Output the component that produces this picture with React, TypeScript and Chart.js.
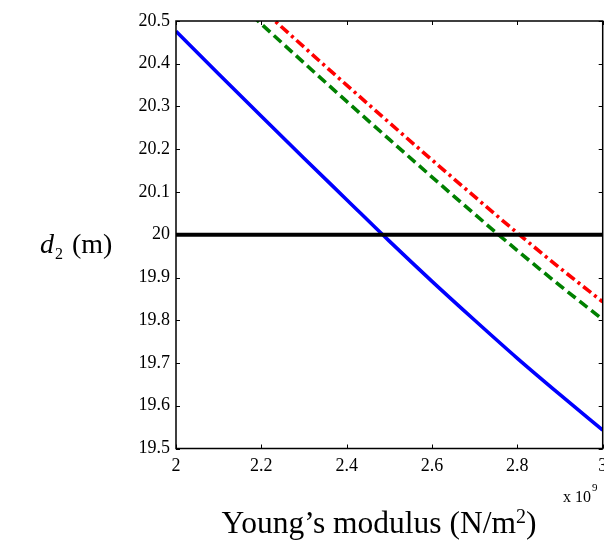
import { useEffect, useRef } from "react";
import { Chart, registerables } from "chart.js";

Chart.register(...registerables);

// Young's modulus (x 10^9 N/m^2)
const xValues = [2.0, 2.1, 2.2, 2.3, 2.4, 2.5, 2.6, 2.7, 2.8, 2.9, 3.0];
// d2 (m) curves
const blueSeries = [20.476, 20.376, 20.277, 20.179, 20.082, 19.985, 19.891, 19.8, 19.711, 19.626, 19.543];
const greenSeries = [null, 20.585, 20.493, 20.402, 20.312, 20.223, 20.135, 20.048, 19.963, 19.881, 19.802];
const redSeries = [null, 20.62, 20.529, 20.439, 20.35, 20.262, 20.175, 20.089, 20.004, 19.922, 19.843];
// reference line d2 = 20 m
const refX = [2, 3];
const refY = [20, 20];

const xTickValues = [2, 2.2, 2.4, 2.6, 2.8, 3];
const yTickValues = [19.5, 19.6, 19.7, 19.8, 19.9, 20, 20.1, 20.2, 20.3, 20.4, 20.5];

const FONT = "'Liberation Serif', 'Times New Roman', serif";

const toPoints = (xs: number[], ys: (number | null)[]) =>
  xs.map((x, i) => ({ x, y: ys[i] }));

const framePlugin = {
  id: "frame",
  afterDraw(chart: any) {
    const { ctx, chartArea } = chart;
    const { left, right, top, bottom } = chartArea;
    const xs = chart.scales.x;
    const ys = chart.scales.y;
    ctx.save();
    // box
    ctx.strokeStyle = "#000";
    ctx.lineWidth = 1.5;
    ctx.strokeRect(left, top, right - left, bottom - top);
    // inward ticks
    ctx.lineWidth = 1;
    const tl = 4;
    ctx.beginPath();
    xTickValues.forEach((v) => {
      const px = Math.round(xs.getPixelForValue(v)) + 0.5;
      ctx.moveTo(px, bottom);
      ctx.lineTo(px, bottom - tl);
      ctx.moveTo(px, top);
      ctx.lineTo(px, top + tl);
    });
    yTickValues.forEach((v) => {
      const py = Math.round(ys.getPixelForValue(v)) + 0.5;
      ctx.moveTo(left, py);
      ctx.lineTo(left + tl, py);
      ctx.moveTo(right, py);
      ctx.lineTo(right - tl, py);
    });
    ctx.stroke();

    ctx.fillStyle = "#000";
    ctx.textBaseline = "alphabetic";
    // y-axis title: d_2 (m)
    ctx.textAlign = "left";
    let x = 40;
    const base = 253;
    ctx.font = `italic 28px ${FONT}`;
    ctx.fillText("d", x, base);
    x += ctx.measureText("d").width + 1;
    ctx.font = `16px ${FONT}`;
    ctx.fillText("2", x, base + 6);
    x += ctx.measureText("2").width + 9;
    ctx.font = `28px ${FONT}`;
    ctx.fillText("(m)", x, base);

    // x-axis title
    const big = `31.5px ${FONT}`;
    const sup = `20px ${FONT}`;
    ctx.font = big;
    const t1 = "Young\u2019s modulus (N/m";
    const t2 = "2";
    const t3 = ")";
    const w1 = ctx.measureText(t1).width;
    ctx.font = sup;
    const w2 = ctx.measureText(t2).width;
    ctx.font = big;
    const w3 = ctx.measureText(t3).width;
    const total = w1 + w2 + w3;
    let sx = 379 - total / 2;
    const xb = 533;
    ctx.fillText(t1, sx, xb);
    sx += w1;
    ctx.font = sup;
    ctx.fillText(t2, sx, xb - 10);
    sx += w2;
    ctx.font = big;
    ctx.fillText(t3, sx, xb);

    // exponent label
    ctx.font = `16px ${FONT}`;
    ctx.fillText("x 10", 563, 502);
    const wx = ctx.measureText("x 10").width;
    ctx.font = `11px ${FONT}`;
    ctx.fillText("9", 563 + wx + 1, 491);
    ctx.restore();
  },
};

export default function App() {
  const canvasRef = useRef<HTMLCanvasElement | null>(null);

  useEffect(() => {
    const canvas = canvasRef.current;
    if (!canvas) return;
    const chart = new Chart(canvas, {
      type: "line",
      data: {
        datasets: [
          {
            label: "ref",
            data: toPoints(refX, refY),
            borderColor: "#000000",
            borderWidth: 4,
            pointRadius: 0,
            order: 0,
          },
          {
            label: "blue",
            data: toPoints(xValues, blueSeries),
            borderColor: "#0000ff",
            borderWidth: 3.6,
            pointRadius: 0,
            cubicInterpolationMode: "monotone",
            order: 1,
          },
          {
            label: "green",
            data: toPoints(xValues, greenSeries),
            borderColor: "#008000",
            borderWidth: 3.6,
            borderDash: [10, 5],
            pointRadius: 0,
            cubicInterpolationMode: "monotone",
            order: 1,
          },
          {
            label: "red",
            data: toPoints(xValues, redSeries),
            borderColor: "#ff0000",
            borderWidth: 3.6,
            borderDash: [10, 4, 3, 4],
            pointRadius: 0,
            cubicInterpolationMode: "monotone",
            order: 1,
          },
        ],
      },
      options: {
        animation: false,
        responsive: false,
        maintainAspectRatio: false,
        layout: { padding: { left: 0, right: 1.3, top: 21, bottom: 0 } },
        plugins: {
          legend: { display: false },
          tooltip: { enabled: false },
        },
        elements: { line: { borderCapStyle: "butt" } },
        scales: {
          x: {
            type: "linear",
            min: 2,
            max: 3,
            grid: { display: false, drawTicks: false },
            border: { display: false },
            afterBuildTicks: (s: any) => {
              s.ticks = xTickValues.map((v) => ({ value: v }));
            },
            afterFit: (s: any) => {
              s.height = 91.5;
              s.paddingLeft = 0;
              s.paddingRight = 0;
            },
            ticks: {
              color: "#000",
              font: { family: FONT, size: 18 },
              padding: 7,
              maxRotation: 0,
              autoSkip: false,
              callback: (v: any) => String(Number(Number(v).toFixed(1))),
            },
          },
          y: {
            type: "linear",
            min: 19.5,
            max: 20.5,
            grid: { display: false, drawTicks: false },
            border: { display: false },
            afterBuildTicks: (s: any) => {
              s.ticks = yTickValues.map((v) => ({ value: v }));
            },
            afterFit: (s: any) => {
              s.width = 176;
              s.paddingTop = 0;
              s.paddingBottom = 0;
            },
            ticks: {
              color: "#000",
              font: { family: FONT, size: 18 },
              padding: 6,
              autoSkip: false,
              callback: (v: any) => String(Number(Number(v).toFixed(1))),
            },
          },
        },
      },
      plugins: [framePlugin],
    });
    return () => chart.destroy();
  }, []);

  return (
    <div style={{ position: "absolute", left: 0, top: 0, width: 604, height: 540, background: "#fff" }}>
      <canvas ref={canvasRef} width={604} height={540} style={{ display: "block" }} />
    </div>
  );
}
